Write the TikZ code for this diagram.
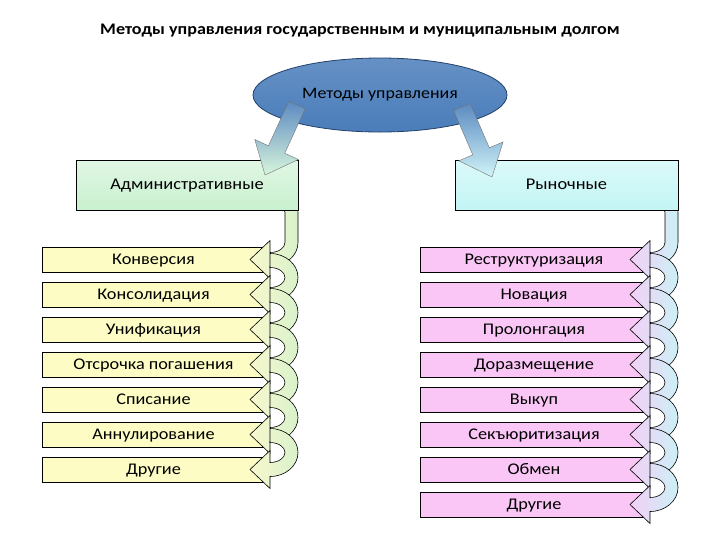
\documentclass[tikz,border=0pt]{standalone}
\usepackage{fontspec}
\setmainfont{Carlito}[FakeStretch=1.12]
\usetikzlibrary{shapes.geometric}
\definecolor{ellfill}{HTML}{4A7DBA}
\definecolor{ellline}{HTML}{22406A}
\definecolor{hdrL}{HTML}{C8F0CE}
\definecolor{hdrR}{HTML}{C4F5F5}
\definecolor{itemL}{HTML}{FCFCC4}
\definecolor{itemR}{HTML}{F9C6F5}
\definecolor{carLa}{HTML}{F8F8CC}
\definecolor{carLb}{HTML}{D8F2CC}
\definecolor{carRa}{HTML}{F2D0F6}
\definecolor{carRb}{HTML}{CCF0F6}
\definecolor{barL}{HTML}{D8F6DC}
\definecolor{barR}{HTML}{D0F4F8}
\newcommand\carrowX[6]{% L, B, R, yc, s, style
  \path[#6] (#2,#4-41-#5) arc[start angle=-90,end angle=0,x radius=#3-#2,y radius=24]
    -- (#3,#4-17) arc[start angle=0,end angle=90,x radius=#3-#2,y radius=24]
    -- (#2,#4+19) -- (#1,#4) -- (#2,#4-19) -- (#2,#4-7)
    arc[start angle=90,end angle=0,x radius=#3-#2-13,y radius=10]
    -- (#3-13,#4-17-#5)
    arc[start angle=0,end angle=-90,x radius=#3-#2-13,y radius=10] -- cycle;}
\begin{document}
\begin{tikzpicture}[x=0.75pt,y=-0.75pt,
  itembox/.style={draw=black, line width=0.5pt, minimum height=18.75pt, inner sep=0pt, text height=8.2pt, text depth=1.2pt, font=\fontsize{12.2}{14}\selectfont},
  leftitem/.style={itembox, fill=itemL, minimum width=167.25pt},
  rightitem/.style={itembox, fill=itemR, minimum width=171pt},
  hdrbox/.style={draw=black, line width=0.5pt, minimum height=37.5pt, minimum width=166.5pt, inner sep=0pt, text height=8.2pt, text depth=1.2pt, font=\fontsize{12.3}{14}\selectfont},
  carL/.style={draw=black, line width=0.45pt, left color=carLa, right color=carLb},
  carR/.style={draw=black, line width=0.45pt, left color=carRa, right color=carRb},
  blockarrow/.style={draw=black!55, line width=0.3pt}
]
\useasboundingbox (0,0) rectangle (720,540);
\node[font=\bfseries\fontsize{12.1}{14}\selectfont] (title) at (360,31) {Методы управления государственным и муниципальным долгом};
% left items
\foreach \t [count=\i from 0] in {Конверсия,Консолидация,Унификация,Отсрочка погашения,Списание,Аннулирование,Другие}{
  \node[leftitem] (L\i) at (153.5,259.5+35*\i) {\t};
}
% right items
\foreach \t [count=\i from 0] in {Реструктуризация,Новация,Пролонгация,Доразмещение,Выкуп,Секъюритизация,Обмен,Другие}{
  \node[rightitem] (R\i) at (534,259.5+35*\i) {\t};
}
% curved arrows left
\carrowX{250}{270}{298}{259.5}{30}{carL}
\foreach \i in {1,...,6}{ \carrowX{250}{270}{298}{259.5+35*\i}{0}{carL} }
% curved arrows right
\carrowX{630}{650}{678}{259.5}{30}{carR}
\foreach \i in {1,...,7}{ \carrowX{630}{650}{678}{259.5+35*\i}{0}{carR} }
% headers
\node[hdrbox, top color=hdrL!55!white, bottom color=hdrL] (adm) at (187,185) {Административные};
\node[hdrbox, top color=hdrR!60!white, bottom color=hdrR, minimum width=167.25pt] (mkt) at (566.5,185) {Рыночные};
% ellipse
\node[ellipse, draw=ellline, line width=0.6pt, top color=ellfill!85!white, bottom color=ellfill, minimum width=190.5pt, minimum height=55.5pt, inner sep=0pt, font=\fontsize{12}{14}\selectfont] (meth) at (380,95) {Методы управления};
% block arrows
\path[blockarrow, top color=ellfill!90!white, bottom color=barL] (288.8,101.3) -- (268.4,145.8) -- (254.8,139.5) -- (265,175) -- (298.4,159.5) -- (284.8,153.2) -- (305.2,108.7) -- cycle;
\path[blockarrow, top color=ellfill!90!white, bottom color=barR] (470.3,103.5) -- (489.3,147.8) -- (503.1,141.9) -- (492,177) -- (458.9,160.8) -- (472.7,154.8) -- (453.7,110.5) -- cycle;
\end{tikzpicture}
\end{document}
